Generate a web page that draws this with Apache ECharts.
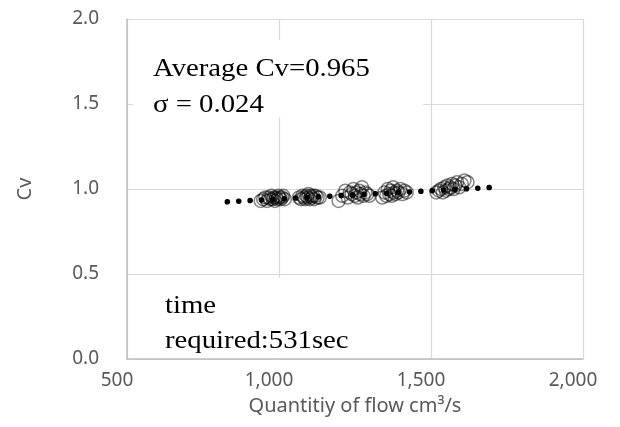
<!DOCTYPE html>
<html>
<head>
<meta charset="utf-8">
<script src="https://cdn.jsdelivr.net/npm/echarts@6/dist/echarts.min.js"></script>
<style>
  html, body { margin: 0; padding: 0; background: #fff; }
  #chart { width: 620px; height: 427px; }
</style>
</head>
<body>
<div id="chart"></div>
<script>
const flowX = [
  940, 948, 955, 961, 966, 971, 975, 979, 983, 987, 990, 994, 998, 1002, 1006, 1010, 1014, 1019,
  1066, 1072, 1077, 1082, 1086, 1090, 1094, 1097, 1101, 1104, 1108, 1112, 1116, 1121, 1127, 1134,
  1196, 1208, 1218, 1226, 1233, 1239, 1245, 1250, 1255, 1259, 1264, 1268, 1273, 1278, 1284, 1290, 1297,
  1340, 1347, 1353, 1358, 1363, 1367, 1371, 1375, 1379, 1383, 1388, 1393, 1399, 1406, 1413, 1420,
  1518, 1526, 1533, 1539, 1544, 1549, 1554, 1559, 1564, 1569, 1574, 1580, 1586, 1593, 1601, 1610, 1620
];
const cvY = [
  0.93, 0.94, 0.95, 0.93, 0.95, 0.94, 0.96, 0.94, 0.95, 0.93, 0.95, 0.94, 0.96, 0.95, 0.94, 0.95, 0.96, 0.94,
  0.95, 0.94, 0.96, 0.95, 0.94, 0.96, 0.95, 0.97, 0.94, 0.96, 0.95, 0.96, 0.94, 0.96, 0.95, 0.95,
  0.93, 0.96, 0.99, 0.95, 0.98, 0.97, 1.00, 0.96, 0.98, 0.95, 0.99, 0.97, 1.01, 0.96, 0.98, 0.97, 0.96,
  0.95, 0.98, 0.96, 1.00, 0.97, 0.99, 0.96, 1.01, 0.98, 0.97, 0.99, 0.98, 1.00, 0.97, 0.99, 0.98,
  0.98, 0.99, 1.00, 0.98, 1.01, 0.99, 1.02, 1.00, 1.01, 1.03, 1.00, 1.02, 1.04, 1.01, 1.03, 1.05, 1.04
];
// linear trend line end points
const trendX = [830, 1710];
const trendY = [0.925, 1.01];

const xTicks = [500, 1000, 1500, 2000];
const yTicks = [0, 0.5, 1.0, 1.5, 2.0];

const statLines = ["Average Cv=0.965", "σ = 0.024"];
const timeLines = ["time", "required:531sec"];

let points = [];
for (let i = 0; i < flowX.length; i++) {
  points.push([flowX[i], cvY[i]]);
}
let trend = [];
for (let i = 0; i < trendX.length; i++) {
  trend.push([trendX[i], trendY[i]]);
}

const serif = '25px "Liberation Serif", "Times New Roman", serif';
const sans = '"Noto Sans", "Open Sans", sans-serif';

let myChart = echarts.init(document.getElementById("chart"));
myChart.setOption({
  animation: false,
  backgroundColor: "#fff",
  grid: { left: 127, right: 37, top: 19, bottom: 68 },
  xAxis: {
    type: "value",
    min: xTicks[0],
    max: xTicks[xTicks.length - 1],
    interval: 500,
    name: "Quantitiy of flow cm³/s",
    nameLocation: "middle",
    nameGap: 37,
    nameTextStyle: { color: "#595959", fontSize: 20, fontFamily: sans },
    axisLine: { show: true, lineStyle: { color: "#bfbfbf", width: 1.5 } },
    axisTick: { show: false },
    axisLabel: {
      color: "#595959",
      fontSize: 19,
      fontFamily: sans,
      margin: 12,
      padding: [0, 20, 0, 0],
      formatter: v => v.toLocaleString("en-US")
    },
    splitLine: { show: true, lineStyle: { color: "#d9d9d9", width: 1.2 } }
  },
  yAxis: {
    type: "value",
    min: yTicks[0],
    max: yTicks[yTicks.length - 1],
    interval: 0.5,
    name: "Cv",
    nameLocation: "middle",
    nameGap: 92,
    nameTextStyle: { color: "#595959", fontSize: 20, fontFamily: sans },
    axisLine: { show: true, lineStyle: { color: "#bfbfbf", width: 1.5 } },
    axisTick: { show: false },
    axisLabel: {
      color: "#595959",
      fontSize: 19,
      fontFamily: sans,
      margin: 28,
      formatter: v => v.toFixed(1)
    },
    splitLine: { show: true, lineStyle: { color: "#d9d9d9", width: 1.2 } }
  },
  graphic: [
    { type: "rect", z: 10, shape: { x: 133, y: 40, width: 290, height: 77 }, style: { fill: "#fff" } },
    { type: "rect", z: 10, shape: { x: 150, y: 278, width: 250, height: 80 }, style: { fill: "#fff" } },
    { type: "text", z: 11, x: 153, y: 69, scaleX: 1.15, style: { text: statLines[0], font: serif, fill: "#000", verticalAlign: "middle" } },
    { type: "text", z: 11, x: 153, y: 105, scaleX: 1.15, style: { text: statLines[1], font: serif, fill: "#000", verticalAlign: "middle" } },
    { type: "text", z: 11, x: 165, y: 306, scaleX: 1.15, style: { text: timeLines[0], font: serif, fill: "#000", verticalAlign: "middle" } },
    { type: "text", z: 11, x: 165, y: 341, scaleX: 1.15, style: { text: timeLines[1], font: serif, fill: "#000", verticalAlign: "middle" } }
  ],
  series: [
    {
      type: "scatter",
      data: points,
      symbol: "circle",
      symbolSize: 13,
      itemStyle: { color: "rgba(0,0,0,0)", borderColor: "rgba(0,0,0,0.6)", borderWidth: 1.5 },
      z: 2
    },
    {
      type: "line",
      data: trend,
      symbol: "none",
      lineStyle: { color: "#000", width: 5.5, type: [0.1, 11.3], cap: "round" },
      z: 3
    }
  ]
});
</script>
</body>
</html>
